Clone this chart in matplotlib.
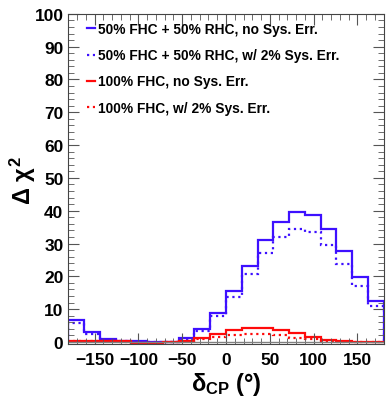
import numpy as np
import matplotlib
matplotlib.use("Agg")
from matplotlib import pyplot as plt
from matplotlib.ticker import MultipleLocator

plt.rcParams['font.family'] = ['Liberation Sans', 'DejaVu Sans']
plt.rcParams['font.weight'] = 'bold'
plt.rcParams['mathtext.fontset'] = 'custom'
plt.rcParams['mathtext.rm'] = 'Liberation Sans:bold'
plt.rcParams['mathtext.it'] = 'Liberation Sans:bold'
plt.rcParams['mathtext.bf'] = 'Liberation Sans:bold'

# 20 bins of 18 degrees
edges = np.arange(-180, 181, 18)

blue_nosys = [6.8, 2.9, 1.0, 0.4, 0.2, 0.1, 0.1, 1.2, 3.9, 8.8, 15.4, 23.2, 31.0, 36.7, 39.6, 38.6, 34.3, 27.6, 19.9, 12.6]
blue_sys = [5.8, 2.4, 0.7, 0.3, 0.1, 0.0, 0.1, 0.9, 3.4, 7.9, 13.8, 20.8, 27.1, 32.0, 34.4, 33.4, 29.5, 23.9, 17.1, 11.1]
red_nosys = [0.3, 0.3, 0.3, 0.2, -0.2, -0.2, 0.0, 0.3, 1.1, 2.5, 3.5, 4.1, 4.1, 3.6, 2.7, 1.4, 0.6, 0.2, 0.1, 0.1]
red_sys = [0.2, 0.2, 0.2, 0.1, -0.2, -0.2, 0.0, 0.2, 0.8, 1.5, 2.1, 2.5, 2.5, 2.0, 1.3, 0.8, 0.3, 0.1, 0.1, 0.1]

labels = ["50% FHC + 50% RHC, no Sys. Err.",
          "50% FHC + 50% RHC, w/ 2% Sys. Err.",
          "100% FHC, no Sys. Err.",
          "100% FHC, w/ 2% Sys. Err."]

blue = '#3d10ff'
red = '#ff0a0a'

fig = plt.figure(figsize=(3.86, 4.02), dpi=100)
ax = fig.add_axes([0.177, 0.142, 0.817, 0.821])

ax.axhline(0, color='gray', lw=1.0)
ax.stairs(blue_nosys, edges, color=blue, lw=1.6, label=labels[0])
ax.stairs(blue_sys, edges, color=blue, lw=1.6, ls=':', label=labels[1])
ax.stairs(red_nosys, edges, color=red, lw=1.6, label=labels[2])
ax.stairs(red_sys, edges, color=red, lw=1.6, ls=':', label=labels[3])

ax.set_xlim(-180, 180)
ax.set_ylim(-0.6, 100)
ax.xaxis.set_major_locator(MultipleLocator(50))
ax.xaxis.set_minor_locator(MultipleLocator(10))
ax.yaxis.set_major_locator(MultipleLocator(10))
ax.yaxis.set_minor_locator(MultipleLocator(2))
ax.tick_params(which='both', direction='in', top=True, right=True, labelsize=12.5, color='#555555')
ax.tick_params(which='major', length=8)
ax.tick_params(which='minor', length=4)
ax.tick_params(axis='x', pad=6)
for s in ax.spines.values():
    s.set_color('#444444')
    s.set_linewidth(0.8)
for t in ax.get_xticklabels() + ax.get_yticklabels():
    t.set_fontweight('bold')

ax.set_xlabel(r'$\delta_{CP}$ (°)', fontsize=17, fontweight='bold', labelpad=2)
ax.set_ylabel(r'$\Delta\ \chi^{2}$', fontsize=17, fontweight='bold')
ax.yaxis.set_label_coords(-0.095, 0.5)

ax.legend(loc='upper left', bbox_to_anchor=(0.02, 1.012), handlelength=0.6,
          handletextpad=0.2, labelspacing=0.88, frameon=False,
          prop={'weight': 'bold', 'size': 9.9})

fig.savefig('out.png', dpi=100)
